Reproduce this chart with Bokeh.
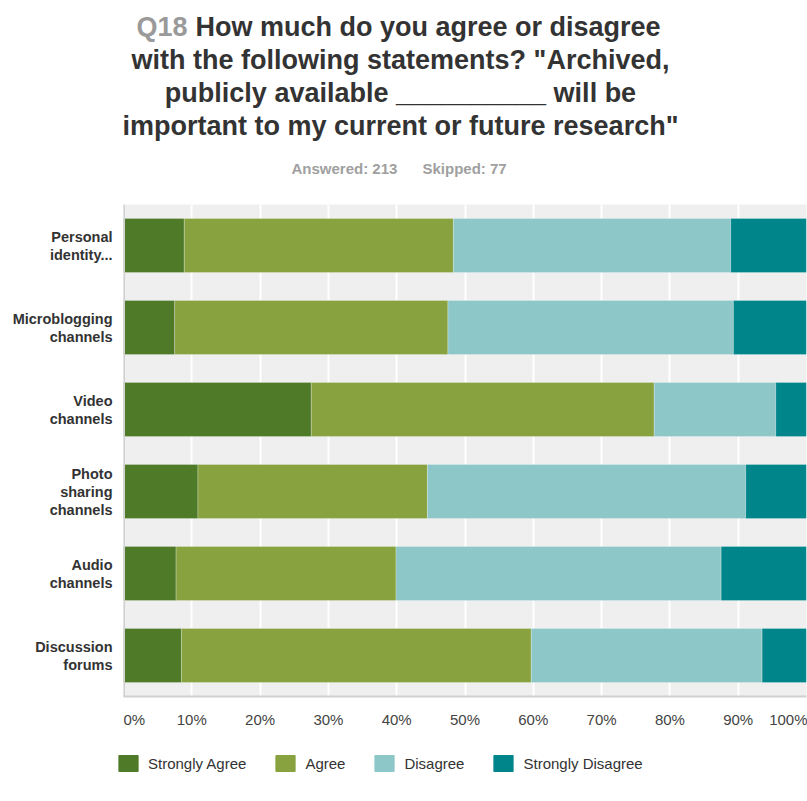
from bokeh.plotting import figure
from bokeh.layouts import column, row
from bokeh.core.properties import value
from bokeh.models import (ColumnDataSource, FactorRange, FixedTicker, PrintfTickFormatter,
                          Label, Legend, LegendItem, Span)
from bokeh.embed import file_html
from bokeh.resources import INLINE

categories = ["Personal identity...", "Microblogging channels", "Video channels",
              "Photo sharing channels", "Audio channels", "Discussion forums"]
category_labels = ["Personal\nidentity...", "Microblogging\nchannels", "Video\nchannels",
                   "Photo\nsharing\nchannels", "Audio\nchannels", "Discussion\nforums"]
series_names = ["Strongly Agree", "Agree", "Disagree", "Strongly Disagree"]
strongly_agree = [8.9, 7.5, 27.5, 10.9, 7.7, 8.5]
agree = [39.4, 40.0, 50.2, 33.6, 32.2, 51.2]
disagree = [40.6, 41.8, 17.8, 46.6, 47.6, 33.8]
strongly_disagree = [11.1, 10.7, 4.5, 8.9, 12.5, 6.5]
x_ticks = [0, 10, 20, 30, 40, 50, 60, 70, 80, 90, 100]
colors = ["#4f7a28", "#87a23e", "#8ec7c8", "#00868a"]
FONT = "Liberation Sans"

source = ColumnDataSource(dict(cat=categories, sa=strongly_agree, a=agree,
                               d=disagree, sd=strongly_disagree))
y_range = FactorRange(*reversed(categories))

# ---------- title figure ----------
TOP = 196
tf = figure(width=807, height=TOP, output_backend="svg", toolbar_location=None,
            x_range=(0, 1), y_range=(0, 1), x_axis_location=None, y_axis_location=None,
            min_border=0, outline_line_color=None)
tf.grid.visible = False

def add_label(text, px, py, size, color, align="center", style="bold"):
    tf.add_layout(Label(x=px, y=TOP - py, x_units="screen", y_units="screen", text=text,
                        text_font=FONT, text_font_size=size, text_font_style=style,
                        text_color=color, text_align=align, text_baseline="middle"))

add_label("Q18", 187, 26, "27px", "#9a9a9a", align="right")
add_label("How much do you agree or disagree", 195, 26, "27px", "#333333", align="left")
add_label("with the following statements? \"Archived,", 400, 59, "27px", "#333333")
add_label("publicly available __________ will be", 400, 92, "27px", "#333333")
add_label("important to my current or future research\"", 400, 125, "27px", "#333333")
add_label("Answered: 213", 291, 168, "15px", "#a0a0a0", align="left")
add_label("Skipped: 77", 422, 168, "15px", "#a0a0a0", align="left")

# ---------- category label figure ----------
lab_cat, lab_text, lab_off = [], [], []
for cat, lab in zip(categories, category_labels):
    lines = lab.split("\n")
    n = len(lines)
    for i, ln in enumerate(lines):
        lab_cat.append(cat)
        lab_text.append(ln)
        lab_off.append((i - (n - 1) / 2) * 18)
lab_src = ColumnDataSource(dict(cat=lab_cat, text=lab_text, off=lab_off))

H = 540
lf = figure(width=123, height=H, output_backend="svg", toolbar_location=None,
            x_range=(0, 1), y_range=y_range, x_axis_location=None, y_axis_location=None,
            min_border_left=0, min_border_right=0, min_border_top=8, min_border_bottom=40,
            outline_line_color=None)
lf.grid.visible = False
lf.text(x=1, y="cat", text="text", y_offset="off", x_offset=-11, source=lab_src,
        text_align="right", text_baseline="middle", text_font_size="14.5px",
        text_font=value(FONT), text_font_style="bold", text_color="#333333")

# ---------- main figure ----------
p = figure(width=684, height=H, output_backend="svg", toolbar_location=None,
           y_range=y_range, x_range=(0, 100), y_axis_location=None,
           min_border_left=0, min_border_right=1, min_border_top=8, min_border_bottom=40)
p.background_fill_color = "#efefef"
p.outline_line_color = None

renderers = p.hbar_stack(["sa", "a", "d", "sd"], y="cat", height=0.66, color=colors,
                         line_color="white", line_alpha=0.25, line_width=1, source=source)

p.xaxis.ticker = FixedTicker(ticks=x_ticks)
p.xaxis.formatter = PrintfTickFormatter(format="%d%%")
p.xaxis.major_tick_line_color = None
p.xaxis.minor_tick_line_color = None
p.xaxis.axis_line_color = "#d0d0d0"
p.xaxis.axis_line_width = 2
p.xaxis.major_label_standoff = 8
p.xaxis.major_label_text_font = FONT
p.xaxis.major_label_text_font_size = "15px"
p.xaxis.major_label_text_color = "#444444"

p.add_layout(Span(location=0, dimension="height", line_color="#d0d0d0", line_width=3))

p.xgrid.grid_line_color = "white"
p.xgrid.grid_line_width = 2
p.ygrid.grid_line_color = None

# ---------- legend figure ----------
gf = figure(width=807, height=50, output_backend="svg", toolbar_location=None,
            x_range=(0, 1), y_range=(0, 1), x_axis_location=None, y_axis_location=None,
            min_border=0, outline_line_color=None)
gf.grid.visible = False
nan = float("nan")
dummies = [gf.hbar(y=[nan], right=[nan], height=0.5, color=c) for c in colors]
items = [LegendItem(label=n, renderers=[r]) for n, r in zip(series_names, dummies)]
legend = Legend(items=items, orientation="horizontal", location=(116, 13),
                glyph_width=24, glyph_height=20, label_standoff=8, spacing=27,
                padding=0, margin=0, border_line_color=None, background_fill_alpha=0,
                label_text_font=FONT, label_text_font_size="15px",
                label_text_color="#333333")
gf.add_layout(legend, "center")

layout = column(tf, row(lf, p), gf)
open("out.html", "w").write(file_html(layout, INLINE))
